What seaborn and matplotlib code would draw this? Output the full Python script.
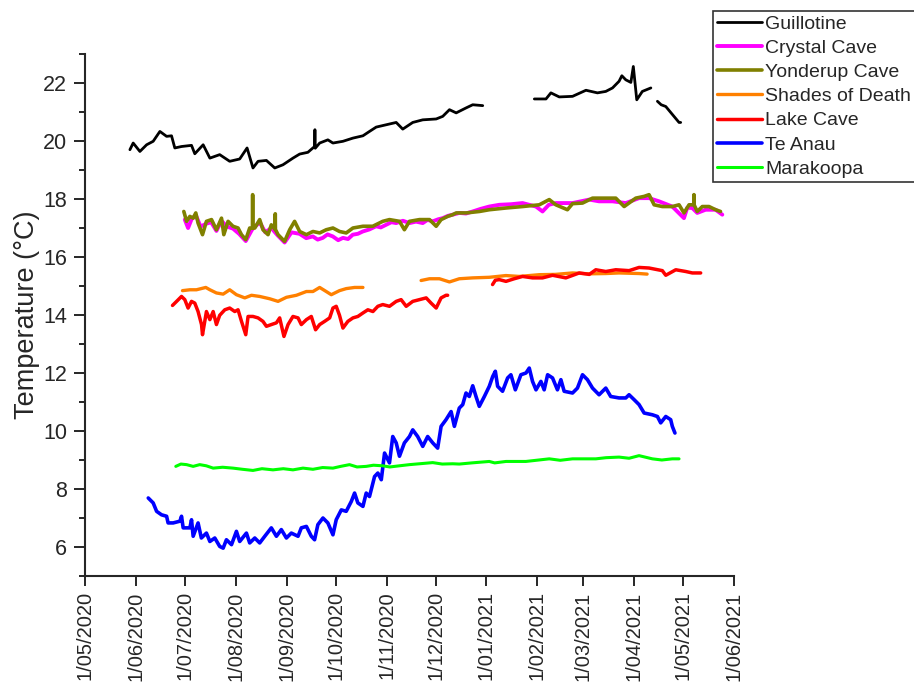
import numpy as np
import pandas as pd
import matplotlib
matplotlib.use("Agg")
import matplotlib.pyplot as plt
import matplotlib.dates as mdates
from matplotlib.ticker import MultipleLocator, FuncFormatter
import seaborn as sns

# days since 1 May 2020, None marks a gap in the logger record
start = pd.Timestamp("2020-05-01")

guillotine_day = [27.4, 29.4, 33.5, 37.6, 41.6, 45.7, 49.8, 52.8, 54.8, 58.9, 65.0, 67.0, 72.1, 76.2,
                  82.2, 88.3, 94.4, 98.9, 102.5, 105.6, 110.7, 115.8, 120.8, 126.9, 131.0, 136.0,
                  140.1, 140.3, 140.5, 143.2, 148.2, 151.3, 157.4, 163.5, 169.6, 173.6, 177.7,
                  183.8, 189.9, 193.9, 200.0, 206.1, 214.3, 218.3, 222.4, 226.5, 232.5, 236.6,
                  242.7, 258.0, 274.2, 281.3, 284.3, 289.4, 297.5, 305.7, 312.7, 317.8, 321.9,
                  325.9, 327.6, 330.0, 333.1, 334.6, 336.7, 340.1, 345.3, 347.0, 349.3, 351.6,
                  354.4, 359.4, 362.5, 363.5]
guillotine_temp = [19.70, 19.93, 19.64, 19.87, 19.99, 20.33, 20.16, 20.18, 19.76, 19.81, 19.85, 19.56,
                   19.87, 19.41, 19.53, 19.30, 19.38, 19.76, 19.07, 19.30, 19.33, 19.07, 19.18, 19.41,
                   19.55, 19.61, 19.81, 20.39, 19.75, 19.93, 20.04, 19.93, 19.99, 20.10, 20.18, 20.33,
                   20.48, 20.56, 20.64, 20.41, 20.64, 20.73, 20.76, 20.85, 21.08, 20.97, 21.14, 21.25,
                   21.22, None, 21.45, 21.45, 21.66, 21.52, 21.54, 21.75, 21.66, 21.71, 21.83, 22.06,
                   22.25, 22.11, 22.02, 22.57, 21.42, 21.71, 21.83, None, 21.37, 21.25, 21.19, 20.85,
                   20.64, 20.64]

crystal_day = [60.9, 62.9, 65.0, 67.6, 70.5, 74.1, 77.0, 80.2, 83.3, 86.5, 90.3, 94.0, 98.1, 102.0,
               106.6, 110.0, 113.7, 117.5, 121.8, 126.0, 130.9, 135.0, 139.0, 142.0, 145.1, 148.0,
               151.2, 154.5, 157.4, 160.5, 163.4, 166.5, 169.5, 173.5, 177.6, 180.5, 183.7, 187.0,
               189.9, 194.0, 198.0, 202.0, 206.1, 209.0, 212.2, 215.5, 218.3, 221.5, 224.4, 228.4,
               232.5, 236.6, 241.5, 246.7, 252.8, 260.0, 267.0, 275.2, 279.2, 283.0, 287.3, 297.5,
               307.7, 313.7, 321.9, 330.0, 338.1, 344.2, 350.3, 358.4, 365.5, 367.5, 370.6, 373.6,
               378.7, 384.8, 388.9]
crystal_temp = [17.29, 17.00, 17.30, 17.45, 17.05, 17.15, 17.20, 16.90, 17.25, 17.05, 16.98, 16.80,
                16.55, 16.95, 17.20, 16.85, 17.00, 16.75, 16.50, 16.85, 16.80, 16.65, 16.71, 16.60,
                16.66, 16.78, 16.71, 16.58, 16.66, 16.62, 16.77, 16.80, 16.88, 16.95, 17.06, 17.02,
                17.11, 17.20, 17.17, 17.25, 17.17, 17.22, 17.17, 17.28, 17.23, 17.30, 17.34, 17.42,
                17.46, 17.52, 17.50, 17.57, 17.66, 17.74, 17.80, 17.82, 17.86, 17.74, 17.57, 17.80,
                17.86, 17.86, 17.98, 17.92, 17.92, 17.86, 18.03, 18.03, 17.92, 17.74, 17.34, 17.70,
                17.69, 17.52, 17.63, 17.63, 17.46]

yonderup_day = [60.3, 62.0, 64.0, 66.0, 67.6, 69.0, 71.7, 74.1, 77.2, 80.2, 83.3, 84.7, 87.3, 90.3,
                93.4, 95.5, 98.1, 100.5, 102.2, 102.3, 102.4, 103.6, 106.6, 108.6, 111.7, 113.7,
                116.0, 116.1, 116.2, 117.8, 121.8, 124.9, 127.9, 131.0, 135.1, 139.1, 143.2, 147.2,
                151.3, 155.3, 159.4, 163.5, 169.6, 175.6, 181.7, 185.8, 191.9, 194.9, 198.0, 204.1,
                210.2, 214.3, 217.3, 221.3, 224.4, 226.5, 232.6, 240.7, 246.7, 256.9, 267.0, 277.2,
                283.3, 287.3, 294.4, 297.5, 303.6, 309.7, 317.8, 323.9, 329.0, 336.1, 341.2, 344.2,
                347.3, 352.3, 358.4, 362.5, 365.5, 368.6, 371.5, 371.6, 371.7, 373.6, 376.7, 380.8,
                384.8, 387.8]
yonderup_temp = [17.57, 17.23, 17.40, 17.34, 17.52, 17.17, 16.77, 17.23, 17.29, 16.94, 17.34, 16.77,
                 17.23, 17.06, 17.00, 16.77, 16.60, 17.00, 17.00, 18.15, 17.00, 17.00, 17.29, 16.94,
                 16.77, 17.11, 16.95, 17.49, 16.95, 16.77, 16.54, 16.94, 17.23, 16.88, 16.77, 16.88,
                 16.83, 16.94, 17.00, 16.88, 16.83, 17.00, 17.06, 17.06, 17.23, 17.29, 17.23, 16.94,
                 17.23, 17.29, 17.29, 17.06, 17.29, 17.40, 17.46, 17.52, 17.52, 17.57, 17.63, 17.69,
                 17.74, 17.80, 17.98, 17.80, 17.63, 17.84, 17.86, 18.03, 18.03, 18.03, 17.74, 18.03,
                 18.09, 18.15, 17.80, 17.74, 17.74, 17.80, 17.52, 17.80, 17.80, 18.15, 17.80, 17.57,
                 17.74, 17.74, 17.63, 17.57]

shades_day = [59.5, 64.0, 68.0, 73.7, 76.2, 80.2, 84.3, 88.3, 92.4, 97.5, 101.6, 106.6, 112.7, 117.8,
              122.9, 129.0, 135.1, 139.1, 143.2, 147.2, 150.3, 155.3, 159.4, 164.5, 169.6, 180.0,
              205.1, 210.2, 216.3, 222.4, 228.4, 236.6, 246.7, 256.9, 265.0, 277.2, 286.9, 297.5,
              307.7, 317.8, 325.9, 338.1, 343.0]
shades_temp = [14.84, 14.87, 14.87, 14.95, 14.87, 14.76, 14.72, 14.87, 14.70, 14.59, 14.68, 14.64,
               14.56, 14.47, 14.61, 14.68, 14.81, 14.81, 14.95, 14.81, 14.70, 14.84, 14.91, 14.95,
               14.95, None, 15.19, 15.25, 15.25, 15.14, 15.25, 15.28, 15.30, 15.36, 15.33, 15.39,
               15.40, 15.45, 15.42, 15.43, 15.45, 15.43, 15.41]

lake_day = [53.4, 55.9, 58.9, 60.9, 62.9, 65.0, 67.0, 69.0, 71.1, 71.7, 74.1, 76.2, 78.2, 80.2, 82.2,
            85.3, 88.3, 91.4, 93.4, 95.5, 98.1, 99.5, 102.5, 105.6, 108.6, 110.7, 113.7, 116.8,
            118.8, 121.4, 123.9, 126.9, 130.0, 132.0, 135.1, 138.1, 140.7, 143.2, 146.2, 149.3,
            151.3, 153.3, 155.3, 157.4, 160.4, 163.5, 166.5, 169.6, 172.6, 175.7, 178.7, 181.7,
            185.8, 189.9, 192.9, 196.0, 200.0, 204.1, 208.2, 211.2, 214.3, 217.3, 220.3, 221.3,
            230.0, 248.7, 250.4, 252.8, 256.9, 261.9, 267.0, 273.1, 279.2, 285.3, 293.4, 301.6,
            307.7, 311.7, 317.8, 323.9, 332.0, 338.1, 344.2, 352.3, 354.4, 360.5, 366.6, 370.6,
            375.7]
lake_temp = [14.33, 14.47, 14.64, 14.53, 14.24, 14.47, 14.41, 14.12, 13.67, 13.32, 14.12, 13.84, 14.12,
             13.67, 13.99, 14.18, 14.24, 14.12, 14.18, 13.78, 13.32, 13.95, 13.95, 13.90, 13.78,
             13.61, 13.67, 13.73, 13.90, 13.26, 13.67, 13.95, 13.90, 13.67, 13.84, 13.95, 13.49,
             13.67, 13.78, 13.90, 14.24, 14.30, 13.99, 13.55, 13.78, 13.90, 13.95, 14.07, 14.18,
             14.12, 14.30, 14.36, 14.30, 14.47, 14.53, 14.30, 14.47, 14.53, 14.59, 14.41, 14.24,
             14.59, 14.68, 14.68, None, 15.05, 15.20, 15.22, 15.16, 15.25, 15.33, 15.28, 15.28,
             15.37, 15.28, 15.45, 15.40, 15.56, 15.50, 15.56, 15.53, 15.64, 15.62, 15.53, 15.37,
             15.56, 15.50, 15.45, 15.45]

te_anau_day = [38.6, 41.6, 43.7, 46.7, 49.8, 50.7, 53.8, 57.9, 58.9, 59.9, 64.0, 65.0, 66.0, 69.0,
               71.0, 74.1, 76.2, 79.2, 82.2, 84.3, 86.3, 89.4, 92.4, 94.4, 98.5, 100.5, 103.6,
               106.6, 109.7, 113.7, 116.8, 119.8, 122.9, 125.9, 130.0, 132.0, 135.1, 138.1, 140.1,
               142.1, 145.2, 148.2, 151.3, 153.3, 156.4, 159.4, 162.5, 164.5, 166.5, 169.6, 171.6,
               173.6, 176.7, 178.7, 180.8, 182.8, 185.8, 187.8, 189.9, 191.9, 194.9, 198.0, 200.0,
               203.0, 206.1, 209.1, 212.2, 215.2, 217.3, 220.3, 223.4, 225.4, 228.4, 230.5, 232.5,
               234.5, 236.6, 238.6, 240.6, 243.7, 246.7, 248.8, 250.4, 251.8, 254.8, 257.9, 259.9,
               262.6, 266.0, 269.1, 271.1, 273.1, 275.2, 278.2, 280.2, 282.3, 285.3, 288.3, 290.4,
               292.4, 297.5, 300.5, 303.6, 306.6, 309.7, 313.7, 317.8, 320.8, 325.9, 330.0, 332.0,
               335.1, 338.1, 341.2, 346.2, 349.3, 351.3, 354.4, 357.4, 358.4, 360.0]
te_anau_temp = [7.69, 7.52, 7.23, 7.11, 7.06, 6.83, 6.83, 6.89, 7.06, 6.66, 6.66, 6.94, 6.37, 6.83,
                6.31, 6.48, 6.19, 6.31, 6.02, 5.96, 6.25, 6.08, 6.54, 6.19, 6.48, 6.14, 6.31, 6.14,
                6.37, 6.66, 6.37, 6.60, 6.31, 6.48, 6.37, 6.66, 6.71, 6.37, 6.25, 6.77, 7.00, 6.83,
                6.42, 6.94, 7.28, 7.23, 7.57, 7.86, 7.52, 7.40, 7.86, 7.74, 8.43, 8.55, 8.32, 9.24,
                8.90, 9.81, 9.59, 9.13, 9.59, 9.81, 10.04, 9.81, 9.47, 9.81, 9.59, 9.41, 10.16,
                10.39, 10.67, 10.16, 10.79, 10.91, 11.31, 11.19, 11.56, 11.19, 10.85, 11.19, 11.54,
                11.88, 12.06, 11.54, 11.37, 11.83, 11.94, 11.42, 11.94, 12.00, 12.17, 11.71, 11.42,
                11.71, 11.42, 11.94, 11.83, 11.42, 11.77, 11.37, 11.31, 11.48, 11.94, 11.77, 11.48,
                11.25, 11.48, 11.19, 11.14, 11.14, 11.25, 11.08, 10.91, 10.62, 10.56, 10.50, 10.28,
                10.50, 10.39, 10.16, 9.93]

marakoopa_day = [55.4, 58.5, 62.0, 66.0, 70.0, 74.0, 78.2, 84.0, 90.3, 96.0, 102.5, 108.0, 114.7, 121.0,
                 126.9, 133.0, 139.1, 145.0, 151.3, 156.0, 161.4, 166.0, 171.6, 176.0, 181.7, 186.0,
                 191.9, 198.0, 204.1, 212.2, 218.0, 224.4, 228.4, 236.0, 246.7, 250.0, 256.9, 269.0,
                 283.3, 290.0, 297.5, 311.7, 318.0, 325.9, 332.0, 338.1, 346.2, 352.0, 358.4, 362.5]
marakoopa_temp = [8.78, 8.86, 8.84, 8.78, 8.84, 8.80, 8.72, 8.75, 8.72, 8.68, 8.64, 8.70, 8.66, 8.70,
                  8.66, 8.72, 8.68, 8.74, 8.72, 8.78, 8.84, 8.76, 8.78, 8.82, 8.80, 8.76, 8.80, 8.84,
                  8.87, 8.91, 8.86, 8.87, 8.86, 8.90, 8.95, 8.90, 8.95, 8.95, 9.04, 8.99, 9.04, 9.04,
                  9.08, 9.10, 9.06, 9.15, 9.04, 9.00, 9.04, 9.04]

sites = ["Guillotine", "Crystal Cave", "Yonderup Cave", "Shades of Death",
         "Lake Cave", "Te Anau", "Marakoopa"]
colours = ["#000000", "#FF00FF", "#808000", "#FF8000", "#FF0000", "#0000FF", "#00FF00"]
series = [(guillotine_day, guillotine_temp), (crystal_day, crystal_temp),
          (yonderup_day, yonderup_temp), (shades_day, shades_temp), (lake_day, lake_temp),
          (te_anau_day, te_anau_temp), (marakoopa_day, marakoopa_temp)]
widths = [2.0, 2.8, 2.6, 2.4, 2.5, 2.6, 2.2]

sns.set_style("ticks")
plt.rcParams["font.family"] = ["Liberation Sans", "DejaVu Sans"]

fig = plt.figure(figsize=(9.14, 6.88), dpi=100)
ax = fig.add_axes([0.093, 0.1628, 0.710, 0.7587])

for name, col, lw, (days, temps) in zip(sites, colours, widths, series):
    df = pd.DataFrame({"day": days, "temp": pd.array(temps, dtype="Float64").astype(float)})
    df["seg"] = df["temp"].isna().cumsum()
    df = df.dropna()
    df["date"] = start + pd.to_timedelta(df["day"], unit="D")
    first = True
    for _, part in df.groupby("seg"):
        sns.lineplot(data=part, x="date", y="temp", ax=ax, color=col, linewidth=lw,
                     label=name if first else None, legend=False, estimator=None)
        first = False

ax.set_xlim(pd.Timestamp("2020-05-01"), pd.Timestamp("2021-06-01"))
ax.set_ylim(5, 23)
ax.xaxis.set_major_locator(mdates.MonthLocator(bymonthday=1))


def fmt_date(x, pos):
    d = mdates.num2date(x)
    return f"{d.day}/{d.month:02d}/{d.year}"


ax.xaxis.set_major_formatter(FuncFormatter(fmt_date))
ax.yaxis.set_major_locator(MultipleLocator(2))
ax.yaxis.set_minor_locator(MultipleLocator(1))
ax.tick_params(axis="x", labelrotation=90, labelsize=14.5, length=7, width=1.4, direction="out", pad=4)
ax.tick_params(axis="y", which="major", labelsize=15.5, length=8, width=1.4, pad=5)
ax.tick_params(axis="y", which="minor", length=4, width=1.4)
ax.set_xlabel("")
ax.set_ylabel("Temperature (°C)", fontsize=19.5, labelpad=2)
sns.despine(ax=ax)
for s in ["left", "bottom"]:
    ax.spines[s].set_linewidth(1.5)

handles, labels = ax.get_legend_handles_labels()
leg = fig.legend(handles, labels, loc="upper left", bbox_to_anchor=(0.780, 0.984),
                 bbox_transform=fig.transFigure, fontsize=14, frameon=True, fancybox=False,
                 edgecolor="#333333", framealpha=1, borderpad=0.2, labelspacing=0.34,
                 handlelength=2.3, handletextpad=0.2, borderaxespad=0)
leg.get_frame().set_linewidth(1.2)

fig.savefig("out.png", dpi=100)
